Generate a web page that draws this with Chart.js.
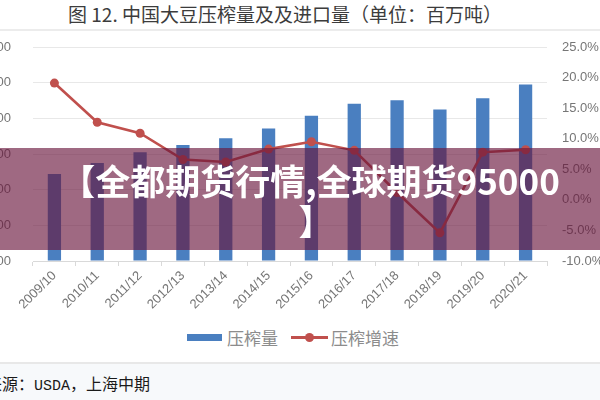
<!DOCTYPE html>
<html>
<head>
<meta charset="utf-8">
<script src="https://cdn.jsdelivr.net/npm/chart.js@4.4.1/dist/chart.umd.min.js"></script>
<style>
    html, body { margin: 0; padding: 0; background: #fff; }
    #page { position: relative; width: 600px; height: 400px; overflow: hidden; background: #fff; font-family: "Noto Sans CJK SC", sans-serif; }
    #title { position: absolute; left: 0; top: 0; width: 570px; height: 29px; line-height: 28px; text-align: center; font-size: 19px; color: #3c3c3c; }
    #titleLine { position: absolute; left: 0; top: 29px; width: 600px; height: 2px; background: #ececec; }
    #chartBox { position: absolute; left: -40px; top: 30px; width: 640px; height: 290px; }
    #legend { position: absolute; left: 187px; top: 328px; height: 18px; display: flex; align-items: center; font-size: 17px; color: #8c8c8c; white-space: nowrap; }
    #legend .item { display: flex; align-items: center; margin-right: 13px; }
    #legend .box { width: 35px; height: 7px; margin-right: 5px; }
    #legend .line { position: relative; width: 37px; height: 3px; margin-right: 3px; }
    #legend .dot { position: absolute; left: 14px; top: -3px; width: 9px; height: 9px; border-radius: 50%; }
    #footer { position: absolute; left: 0; top: 362px; width: 600px; height: 38px; background: #f7f9fb; border-top: 2px solid #e8e8e8; }
    #source { position: absolute; left: -14px; top: 9px; font-size: 16px; line-height: 20px; color: #1a1a1a; white-space: nowrap; }
    #source .en { font-family: "Liberation Mono", monospace; font-size: 15px; }
    #band { position: absolute; left: 0; top: 148px; width: 600px; height: 102px; background: rgba(105, 20, 60, 0.64); }
    #bandText { position: absolute; left: 60px; top: 12px; width: 500px; text-align: center; color: #fff; font-weight: 700; font-size: 35px; line-height: 40px; white-space: nowrap; }
    #bandText .close { position: relative; left: 6px; }
</style>
</head>
<body>
<div id="page">
    <div id="title">图 12. 中国大豆压榨量及及进口量（单位：百万吨）</div>
    <div id="titleLine"></div>
    <div id="chartBox"><canvas id="myChart" width="640" height="290"></canvas></div>
    <div id="legend"></div>
    <div id="footer"><div id="source">来源：<span class="en">USDA</span>，上海中期</div></div>
    <div id="band"><div id="bandText">【全都期货行情,全球期货95000<br><span class="close">】</span></div></div>
</div>
<script>
// crop years
const categories = ['2009/10', '2010/11', '2011/12', '2012/13', '2013/14', '2014/15',
    '2015/16', '2016/17', '2017/18', '2018/19', '2019/20', '2020/21'];
// 压榨量, million tons (left axis)
const crushVolume = [48.8, 55.0, 61.0, 65.0, 68.8, 74.3, 81.4, 88.2, 90.2, 85.0, 91.2, 99.0];
// 压榨增速, percent (right axis)
const crushGrowth = [19.1, 12.7, 10.9, 6.6, 6.2, 8.3, 9.5, 8.1, 1.2, -5.4, 7.8, 8.2];

const seriesNames = ['压榨量', '压榨增速'];
const barColor = '#4a7fc0';
const lineColor = '#c0504d';
const tickColor = '#767676';
const tickFont = { family: 'Liberation Sans', size: 13 };

const ctx = document.getElementById('myChart').getContext('2d');

// keep the tick padding from pushing the plot area down
function fixYAxis(width) {
    return (scale) => {
        scale.width = width;
        scale.paddingTop = 0;
        scale.paddingBottom = 0;
    };
}

new Chart(ctx, {
    data: {
        labels: categories,
        datasets: [{
            type: 'line',
            label: seriesNames[1],
            data: crushGrowth,
            yAxisID: 'y1',
            borderColor: lineColor,
            backgroundColor: lineColor,
            borderWidth: 2.6,
            pointRadius: 4.5,
            pointBackgroundColor: lineColor,
            pointBorderWidth: 0,
            tension: 0,
            order: 0
        }, {
            type: 'bar',
            label: seriesNames[0],
            data: crushVolume,
            yAxisID: 'y',
            backgroundColor: barColor,
            barPercentage: 0.31,
            categoryPercentage: 1.0,
            order: 1
        }]
    },
    options: {
        responsive: false,
        animation: false,
        devicePixelRatio: 1,
        layout: { padding: { top: 17, left: 0, right: 0, bottom: 0 } },
        plugins: {
            legend: { display: false },
            tooltip: { enabled: false }
        },
        scales: {
            x: {
                offset: true,
                grid: { display: true, drawOnChartArea: false, drawTicks: true, tickLength: 5, color: '#d9d9d9', offset: true },
                border: { color: '#d9d9d9' },
                ticks: { color: tickColor, font: tickFont, minRotation: 45, maxRotation: 45, autoSkip: false, padding: 2 },
                afterFit: (scale) => { scale.height = 59; }
            },
            y: {
                position: 'left',
                min: 0,
                max: 120,
                grid: { color: '#e8e8e8', drawTicks: false },
                border: { display: false },
                ticks: { stepSize: 20, padding: 22, color: tickColor, font: tickFont, callback: (v) => v.toFixed(2) },
                afterFit: fixYAxis(73)
            },
            y1: {
                position: 'right',
                min: -10,
                max: 25,
                grid: { display: false, drawTicks: false },
                border: { display: false },
                ticks: { stepSize: 5, padding: 15, color: tickColor, font: tickFont, callback: (v) => v.toFixed(1) + '%' },
                afterFit: fixYAxis(53)
            }
        }
    }
});

// legend built from the series names/colours
const legend = document.getElementById('legend');
const barItem = document.createElement('div');
barItem.className = 'item';
barItem.innerHTML = `<span class="box" style="background:${barColor}"></span>${seriesNames[0]}`;
legend.appendChild(barItem);
const lineItem = document.createElement('div');
lineItem.className = 'item';
lineItem.innerHTML = `<span class="line" style="background:${lineColor}"><span class="dot" style="background:${lineColor}"></span></span>${seriesNames[1]}`;
legend.appendChild(lineItem);
</script>
</body>
</html>
